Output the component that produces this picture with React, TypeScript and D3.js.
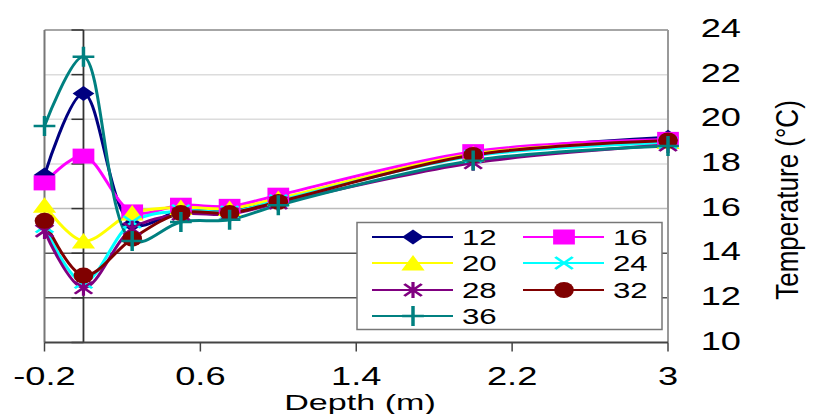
import { useEffect, useRef } from 'react';
import * as d3 from 'd3';

// depth (m) of each reading
const depths = [-0.2, 0, 0.25, 0.5, 0.75, 1.0, 2.0, 3.0];

const s12 = [17.5, 21.15, 15.3, 15.9, 15.9, 16.4, 18.45, 19.2];
const s16 = [17.15, 18.35, 15.85, 16.15, 16.1, 16.6, 18.55, 19.1];
const s20 = [16.15, 14.55, 15.8, 16.05, 16.0, 16.45, 18.45, 19.0];
const s24 = [15.2, 12.7, 15.4, 15.9, 15.85, 16.35, 18.35, 18.95];
const s28 = [15.0, 12.45, 15.1, 15.75, 15.75, 16.25, 18.05, 18.85];
const s32 = [15.45, 13.0, 14.65, 15.8, 15.8, 16.3, 18.4, 19.05];
const s36 = [19.7, 22.8, 14.55, 15.4, 15.5, 16.15, 18.15, 18.8];

const seriesNames = ['12', '16', '20', '24', '28', '32', '36'];
const seriesValues = [s12, s16, s20, s24, s28, s32, s36];
const seriesColors = ['#000080', '#ff00ff', '#ffff00', '#00ffff', '#800080', '#800000', '#008080'];
const seriesMarkers = ['diamond', 'square', 'triangle', 'x', 'star', 'circle', 'plus'];

const xTicks = [-0.2, 0.6, 1.4, 2.2, 3];
const yTicks = [10, 12, 14, 16, 18, 20, 22, 24];

const W = 818;
const H = 414;
const SX = 1.45; // the whole picture is stretched sideways

type Sel = d3.Selection<SVGGElement, unknown, null, undefined>;

function drawMarker(g: Sel, kind: string, color: string) {
  const m = g.append('g').attr('transform', `scale(${SX},1)`);
  if (kind === 'diamond') {
    m.append('path').attr('d', 'M0,-7.5L7.5,0L0,7.5L-7.5,0Z').attr('fill', color);
  } else if (kind === 'square') {
    m.append('rect').attr('x', -7.5).attr('y', -7.5).attr('width', 15).attr('height', 15).attr('fill', color);
  } else if (kind === 'triangle') {
    m.append('path').attr('d', 'M0,-8L8,7.5L-8,7.5Z').attr('fill', color);
  } else if (kind === 'circle') {
    m.append('ellipse').attr('rx', 6.8).attr('ry', 8).attr('fill', color);
  } else if (kind === 'x') {
    m.append('path').attr('d', 'M-6,-6L6,6M-6,6L6,-6').attr('stroke', color).attr('stroke-width', 2.2).attr('fill', 'none');
  } else if (kind === 'star') {
    m.append('path').attr('d', 'M-6,-6L6,6M-6,6L6,-6M0,-8L0,8').attr('stroke', color).attr('stroke-width', 2.2).attr('fill', 'none');
  } else if (kind === 'plus') {
    m.append('path').attr('d', 'M-7.5,0L7.5,0M0,-10L0,10').attr('stroke', color).attr('stroke-width', 2.4).attr('fill', 'none');
  }
}

export default function App() {
  const svgRef = useRef<SVGSVGElement>(null);

  useEffect(() => {
    if (!svgRef.current) return;
    const svg = d3.select(svgRef.current);
    svg.selectAll('*').remove();

    const x = d3.scaleLinear().domain([-0.2, 3]).range([44.5, 668]);
    const y = d3.scaleLinear().domain([10, 24]).range([342.5, 30]);

    svg.append('rect').attr('width', W).attr('height', H).attr('fill', '#fff');

    const g = svg.append('g');

    // gridlines
    const gridColor = (v: number) => (v <= 14 ? '#555' : v === 16 ? '#bbb' : '#dcdcdc');
    g.selectAll('line.grid')
      .data(yTicks.filter((v) => v > 10 && v < 24))
      .join('line')
      .attr('x1', x(-0.2))
      .attr('x2', x(3))
      .attr('y1', (d) => y(d))
      .attr('y2', (d) => y(d))
      .attr('stroke', (d) => gridColor(d))
      .attr('stroke-width', 1.5);

    // plot frame
    g.append('line').attr('x1', x(-0.2)).attr('x2', x(3)).attr('y1', y(24)).attr('y2', y(24))
      .attr('stroke', '#888').attr('stroke-width', 1.5);
    g.append('line').attr('x1', x(-0.2)).attr('x2', x(-0.2)).attr('y1', y(24)).attr('y2', y(10))
      .attr('stroke', '#777').attr('stroke-width', 2);
    g.append('line').attr('x1', x(3)).attr('x2', x(3)).attr('y1', y(24)).attr('y2', y(10))
      .attr('stroke', '#999').attr('stroke-width', 2);

    // y axis sits at depth 0
    g.append('line').attr('x1', x(0)).attr('x2', x(0)).attr('y1', y(24)).attr('y2', y(10))
      .attr('stroke', '#333').attr('stroke-width', 1.8);
    g.selectAll('line.ytick')
      .data(yTicks)
      .join('line')
      .attr('x1', x(0) - 12)
      .attr('x2', x(0))
      .attr('y1', (d) => y(d))
      .attr('y2', (d) => y(d))
      .attr('stroke', '#333')
      .attr('stroke-width', 1.5);

    // x axis
    g.append('line').attr('x1', x(-0.2)).attr('x2', x(3)).attr('y1', y(10)).attr('y2', y(10))
      .attr('stroke', '#444').attr('stroke-width', 1.8);
    g.selectAll('line.xtick')
      .data(xTicks)
      .join('line')
      .attr('x1', (d) => x(d))
      .attr('x2', (d) => x(d))
      .attr('y1', y(10))
      .attr('y2', y(10) + 9)
      .attr('stroke', '#444')
      .attr('stroke-width', 1.5);

    const font = 'Liberation Sans, Arial, sans-serif';

    g.selectAll('text.xlab')
      .data(xTicks)
      .join('text')
      .attr('transform', (d) => `translate(${x(d)},384.5) scale(${SX},1)`)
      .attr('text-anchor', 'middle')
      .attr('font-family', font)
      .attr('font-size', 25)
      .attr('fill', '#000')
      .text((d) => String(d));

    g.selectAll('text.ylab')
      .data(yTicks)
      .join('text')
      .attr('transform', (d) => `translate(741,${y(d) - 2}) scale(${SX},1)`)
      .attr('text-anchor', 'end')
      .attr('dy', '0.36em')
      .attr('font-family', font)
      .attr('font-size', 25)
      .attr('fill', '#000')
      .text((d) => String(d));

    g.append('text')
      .attr('transform', `translate(360,409.5) scale(1.55,1)`)
      .attr('text-anchor', 'middle')
      .attr('font-family', font)
      .attr('font-size', 22)
      .attr('fill', '#000')
      .text('Depth (m)');

    g.append('text')
      .attr('transform', `translate(798,200) scale(1.2,1) rotate(-90)`)
      .attr('text-anchor', 'middle')
      .attr('font-family', font)
      .attr('font-size', 26)
      .attr('fill', '#000')
      .text('Temperature (°C)');

    // series lines (smoothed)
    const line = d3.line<number>()
      .x((_, i) => x(depths[i]))
      .y((d) => y(d))
      .curve(d3.curveCatmullRom.alpha(0.5));

    seriesValues.forEach((vals, si) => {
      g.append('path')
        .attr('d', line(vals))
        .attr('fill', 'none')
        .attr('stroke', seriesColors[si])
        .attr('stroke-width', 3);
    });

    seriesValues.forEach((vals, si) => {
      vals.forEach((v, i) => {
        const mg = g.append('g').attr('transform', `translate(${x(depths[i])},${y(v)})`);
        drawMarker(mg, seriesMarkers[si], seriesColors[si]);
      });
    });

    // legend
    const lg = svg.append('g');
    lg.append('rect')
      .attr('x', 357).attr('y', 222.5).attr('width', 305).attr('height', 107)
      .attr('fill', '#fff').attr('stroke', '#777').attr('stroke-width', 1.5);

    const rowY = [237, 263, 290, 316];
    const colX = [372, 523];
    seriesNames.forEach((name, i) => {
      const cx = colX[i % 2];
      const cy = rowY[Math.floor(i / 2)];
      lg.append('line')
        .attr('x1', cx).attr('x2', cx + 81).attr('y1', cy).attr('y2', cy)
        .attr('stroke', seriesColors[i]).attr('stroke-width', 2.2);
      const mg = lg.append('g').attr('transform', `translate(${cx + 41},${cy})`);
      drawMarker(mg, seriesMarkers[i], seriesColors[i]);
      lg.append('text')
        .attr('transform', `translate(${cx + 90},${cy}) scale(1.42,1)`)
        .attr('dy', '0.36em')
        .attr('font-family', font)
        .attr('font-size', 22)
        .attr('fill', '#000')
        .text(name);
    });
  }, []);

  return (
    <div style={{ position: 'absolute', left: 0, top: 0 }}>
      <svg ref={svgRef} width={W} height={H} style={{ display: 'block' }} />
    </div>
  );
}
